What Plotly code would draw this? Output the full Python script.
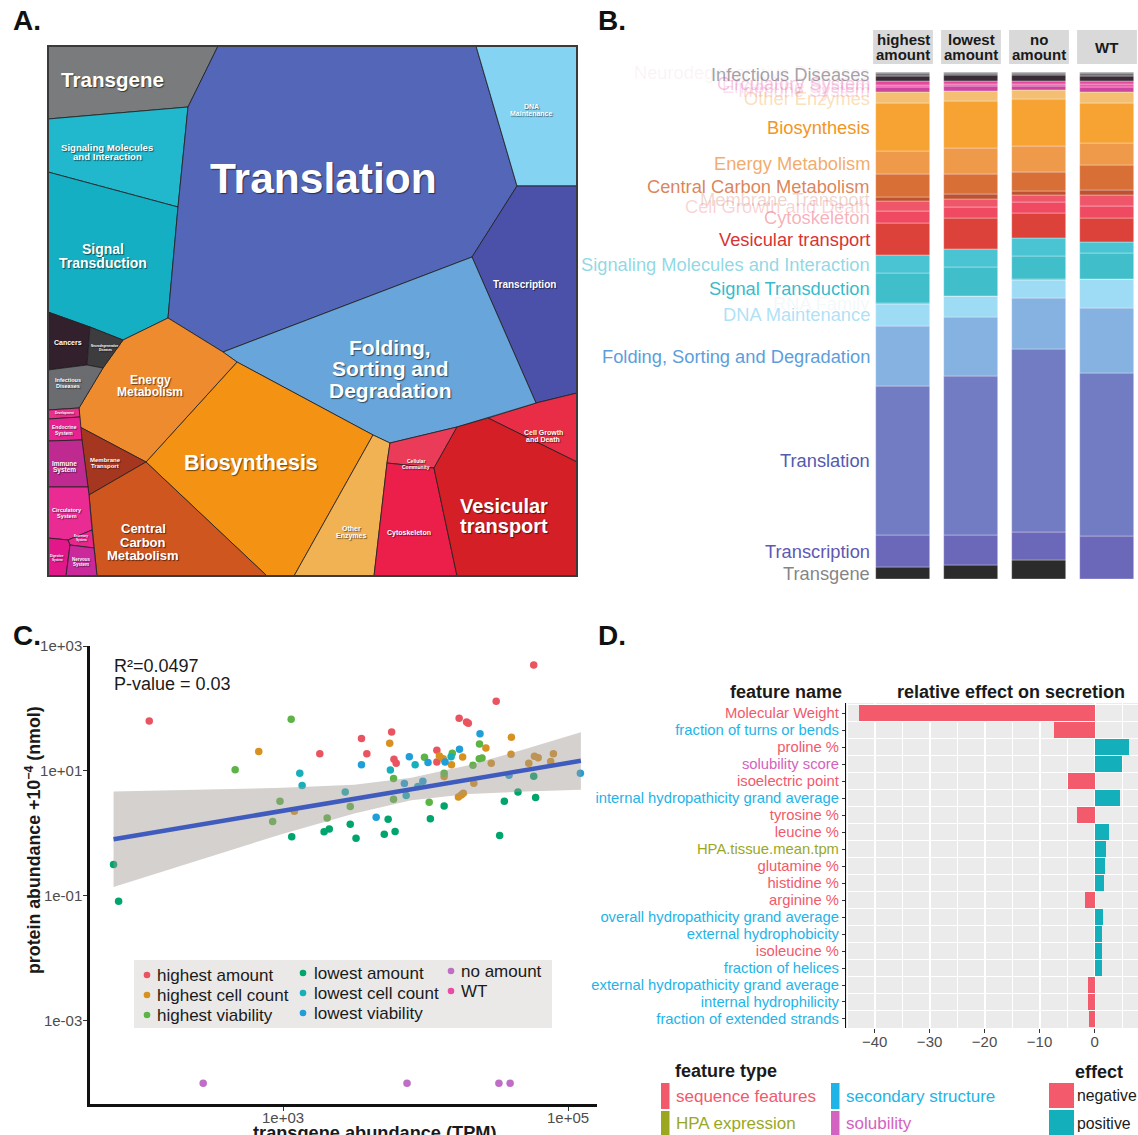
import plotly.graph_objects as go

W, H = 1138, 1135
FONT = "Liberation Sans, Arial, Helvetica, sans-serif"


def px(x):
    return x / W


def py(y):
    return 1 - y / H


# ---------------- A. pathway treemap: cell outlines (box units, y grows downward) ----------------
A_names = [
    "Transgene", "Signaling Molecules and Interaction", "Signal Transduction", "Translation",
    "DNA Maintenance", "Transcription", "Cell Growth and Death", "Folding, Sorting and Degradation",
    "Biosynthesis", "Other Enzymes", "Cellular Community", "Cytoskeleton", "Vesicular transport",
    "Energy Metabolism", "Membrane Transport", "Central Carbon Metabolism", "Cancers",
    "Neurodegenerative Diseases", "Infectious Diseases", "Development", "Endocrine System",
    "Immune System", "Circulatory System", "Excretory System", "Digestive System", "Nervous System",
]
A_cells = [
    [(0, 0), (170, 0), (140, 61), (0, 73)],
    [(0, 73), (140, 61), (130, 161), (0, 126)],
    [(0, 126), (130, 161), (120, 272), (75, 294), (42, 281), (0, 266)],
    [(170, 0), (428, 0), (469, 140), (424, 211), (175, 306), (120, 272), (130, 161), (140, 61)],
    [(428, 0), (529, 0), (529, 140), (469, 140)],
    [(469, 140), (529, 140), (529, 347), (488, 357), (424, 211)],
    [(488, 357), (529, 347), (529, 416), (440, 372)],
    [(175, 306), (424, 211), (488, 357), (440, 372), (409, 381), (342, 397), (325, 389), (189, 316)],
    [(189, 316), (325, 389), (246, 530), (219, 530), (98, 416)],
    [(325, 389), (342, 397), (339, 417), (326, 530), (246, 530)],
    [(342, 397), (409, 381), (386, 422), (339, 417)],
    [(339, 417), (386, 422), (409, 530), (326, 530)],
    [(386, 422), (409, 381), (440, 372), (529, 416), (529, 530), (409, 530)],
    [(75, 294), (120, 272), (175, 306), (189, 316), (98, 416), (32, 381), (31, 362), (55, 322)],
    [(32, 381), (98, 416), (41, 449)],
    [(98, 416), (219, 530), (49, 530), (41, 449)],
    [(0, 266), (42, 281), (39, 319), (0, 324)],
    [(42, 281), (75, 294), (55, 322), (39, 319)],
    [(0, 324), (39, 319), (55, 322), (31, 362), (0, 364)],
    [(0, 364), (31, 362), (32, 371), (0, 373)],
    [(0, 373), (32, 371), (34, 394), (0, 395)],
    [(0, 395), (34, 394), (40, 441), (0, 441)],
    [(0, 441), (40, 441), (41, 449), (44, 484), (20, 494), (0, 492)],
    [(20, 494), (44, 484), (46, 502), (22, 499)],
    [(0, 492), (20, 494), (22, 499), (18, 530), (0, 530)],
    [(22, 499), (46, 502), (49, 530), (18, 530)],
]
A_fill = [
    "#7A7B7D", "#21B7CC", "#15AFC3", "#5366B8", "#84D3F3", "#4B51A8", "#E92D47", "#67A5DA",
    "#F39213", "#F0B253", "#EA3C58", "#EC1F4B", "#D41F26", "#EE8B2E", "#A53620", "#D0561F",
    "#33202D", "#3D3C3F", "#6B6C6F", "#E8308A", "#E72391", "#BF2A90", "#E92B93", "#E8268C",
    "#E2188A", "#C9299B",
]
# label lines, anchor (box units), font size
A_labels = [
    (["Transgene"], 64, 34, 20.6),
    (["Signaling Molecules", "and Interaction"], 59, 106, 9.6),
    (["Signal", "Transduction"], 55, 210, 14),
    (["Translation"], 275, 133, 42.5),
    (["DNA", "Maintenance"], 483, 64, 7),
    (["Transcription"], 476, 239, 10),
    (["Folding,", "Sorting and", "Degradation"], 342, 323, 21),
    (["Energy", "Metabolism"], 102, 340, 12),
    (["Biosynthesis"], 203, 417, 21.5),
    (["Central", "Carbon", "Metabolism"], 95, 496, 13),
    (["Vesicular", "transport"], 456, 470, 20),
    (["Cell Growth", "and Death"], 495, 390, 7),
    (["Cellular", "Community"], 368, 418, 5),
    (["Cytoskeleton"], 361, 487, 7),
    (["Other", "Enzymes"], 303, 486, 7),
    (["Cancers"], 20, 297, 7),
    (["Neurodegenerative", "Diseases"], 57, 302, 3),
    (["Infectious", "Diseases"], 20, 337, 5.5),
    (["Membrane", "Transport"], 57, 417, 6),
    (["Development"], 16, 367, 3),
    (["Endocrine", "System"], 16, 384, 5),
    (["Immune", "System"], 16, 421, 6.5),
    (["Circulatory", "System"], 19, 467, 5.5),
    (["Nervous", "System"], 33, 516, 4.5),
    (["Digestive", "System"], 9, 512, 3),
    (["Excretory", "System"], 33, 492, 3),
]

# ---------------- B. pathway share (% of proteome) per strain group, bottom -> top ----------------
B_facets = ["highest amount", "lowest amount", "no amount", "WT"]
B_facet_titles = [["highest", "amount"], ["lowest", "amount"], ["no", "amount"], ["WT"]]
B_categories = [
    "Transgene", "Transcription", "Translation", "Folding, Sorting and Degradation",
    "DNA Maintenance", "RNA Family", "Signal Transduction", "Signaling Molecules and Interaction",
    "Vesicular transport", "Cytoskeleton", "Cell Growth and Death", "Membrane Transport",
    "Central Carbon Metabolism", "Energy Metabolism", "Biosynthesis", "Other Enzymes",
    "Immune System", "Endocrine System", "Circulatory System", "Cancers", "Infectious Diseases",
    "Neurodegenerative Diseases",
]
B_highest = [2.3, 6.4, 29.3, 12.0, 4.3, 0.1, 5.9, 3.6, 6.3, 2.3, 2.0, 0.8, 4.5, 4.6, 9.4, 2.2,
             1.0, 0.5, 0.7, 1.1, 0.6, 0.1]
B_lowest = [2.8, 5.9, 31.4, 11.5, 4.2, 0.1, 5.7, 3.4, 6.2, 2.2, 1.6, 0.9, 4.0, 5.1, 9.2, 2.0,
            1.0, 0.5, 0.6, 1.1, 0.5, 0.1]
B_none = [3.7, 5.6, 36.0, 10.1, 3.6, 0.1, 4.7, 3.4, 4.9, 2.2, 1.5, 0.7, 3.8, 5.1, 9.2, 1.8,
          0.9, 0.4, 0.6, 1.1, 0.5, 0.1]
B_wt = [0.0, 8.5, 32.1, 12.8, 5.7, 0.0, 5.2, 2.2, 4.7, 2.4, 2.2, 1.0, 4.9, 4.3, 7.8, 2.3,
        1.0, 0.5, 0.6, 1.1, 0.6, 0.1]
B_bar_colors = [
    "#2B2B2B", "#6B67B9", "#727CC3", "#86B2E2", "#9EDBF4", "#3CC0CC", "#40BFCB", "#4AC4D3",
    "#DC423A", "#EF4A62", "#F0566A", "#BE5230", "#D86F36", "#EF9A4A", "#F6A334", "#F4BF72",
    "#CC46A0", "#EE5AAA", "#E4479C", "#3A2C37", "#717174", "#8D8D90",
]
B_label_colors = [
    "rgba(110,110,110,0.85)", "rgba(96,88,178,1)", "rgba(83,90,176,1)", "rgba(92,158,220,1)",
    "rgba(120,205,240,0.6)", "rgba(160,200,215,0.15)", "rgba(40,183,200,0.95)",
    "rgba(70,190,210,0.6)", "rgba(216,52,52,1)", "rgba(238,80,100,0.45)",
    "rgba(238,100,110,0.28)", "rgba(190,90,70,0.25)", "rgba(214,110,60,0.85)",
    "rgba(240,150,70,0.8)", "rgba(242,150,30,1)", "rgba(245,185,100,0.45)",
    "rgba(225,80,165,0.2)", "rgba(235,90,170,0.2)", "rgba(225,70,155,0.3)", None,
    "rgba(100,100,105,0.6)", "rgba(225,150,190,0.12)",
]

# ---------------- C. transgene vs protein abundance per strain group ----------------
C_groups = ["highest amount", "highest cell count", "highest viability", "lowest amount",
            "lowest cell count", "lowest viability", "no amount", "WT"]
C_colors = ["#EA5360", "#D8901F", "#5BB443", "#00A56C", "#18AFBA", "#209ED9", "#BE6EC5", "#E94CA5"]
tpm_highest_amount = [115, 57400, 31300, 17200, 19400, 19950, 5780, 3550, 1810, 3870, 6000, 6220,
                      12000, 12000]
abund_highest_amount = [63, 497, 130, 69.7, 60.8, 58, 42.1, 32.9, 18.9, 18.9, 15.4, 13.3, 21.4, 13.9]
tpm_highest_cells = [675, 5600, 12500, 13300, 15200, 18200, 26500, 40000, 39800, 28900, 53000,
                     58100, 61700, 78900, 75500, 21800, 17000, 17800, 18400, 13500, 1200]
abund_highest_cells = [20.4, 27.7, 17.4, 15.7, 12.6, 16.7, 23.3, 34.6, 18.5, 13.3, 13.3, 17.2,
                       16.3, 18.9, 14.1, 6.35, 3.84, 4.13, 4.40, 8.11, 2.26]
tpm_highest_viab = [1140, 461, 9820, 15400, 23900, 23800, 24900, 21500, 13500, 5960, 5960, 2960,
                    10600, 951, 845, 2040]
abund_highest_viab = [67.1, 10.4, 16.6, 19.2, 27.0, 15.7, 16.1, 12.3, 9.18, 7.53, 3.52, 2.69,
                      3.16, 3.27, 1.55, 1.77]
tpm_lowest_amount = [64.6, 70.1, 1150, 1940, 2110, 2960, 3250, 5130, 6110, 5460, 10800, 13500,
                     33100, 35700, 44500, 59200, 57400]
abund_lowest_amount = [0.317, 0.0822, 0.879, 1.06, 1.17, 1.40, 0.838, 0.970, 1.07, 1.69, 1.71,
                       2.75, 0.923, 3.27, 4.61, 3.74, 8.22]
tpm_lowest_cells = [1310, 1360, 2730, 7310, 5660, 8450, 15100, 8830]
abund_lowest_cells = [9.18, 5.82, 4.61, 4.03, 10.3, 12.5, 16.9, 5.61]
tpm_lowest_viab = [3550, 7690, 10400, 13700, 17300, 24100, 7100, 9570, 4500, 38500, 122000]
abund_lowest_viab = [12.6, 16.9, 13.6, 13.9, 22.2, 39.5, 6.27, 6.84, 1.82, 8.53, 9.18]
tpm_no_amount = [275, 7410, 32700, 39200]
abund_no_amount = [1e-4, 1e-4, 1e-4, 1e-4]
tpm_wt = []
abund_wt = []
C_tpm = [tpm_highest_amount, tpm_highest_cells, tpm_highest_viab, tpm_lowest_amount,
         tpm_lowest_cells, tpm_lowest_viab, tpm_no_amount, tpm_wt]
C_abund = [abund_highest_amount, abund_highest_cells, abund_highest_viab, abund_lowest_amount,
           abund_lowest_cells, abund_lowest_viab, abund_no_amount, abund_wt]
# linear fit in log-log space with its 95% confidence band
fit_tpm = [64.6, 316, 1000, 3160, 7940, 19950, 50100, 123000]
fit_mid = [0.807, 1.48, 2.30, 3.57, 5.08, 7.21, 10.3, 14.5]
fit_hi = [4.68, 5.01, 5.37, 6.03, 7.76, 12.3, 22.4, 41.7]
fit_lo = [0.138, 0.437, 0.989, 2.09, 3.39, 4.27, 4.68, 5.01]
r_squared = "0.0497"
p_value = "0.03"

# ---------------- D. feature effects on secretion ----------------
D_features = [
    "Molecular Weight", "fraction of turns or bends", "proline %", "solubility score",
    "isoelectric point", "internal hydropathicity grand average", "tyrosine %", "leucine %",
    "HPA.tissue.mean.tpm", "glutamine %", "histidine %", "arginine %",
    "overall hydropathicity grand average", "external hydrophobicity", "isoleucine %",
    "fraction of helices", "external hydropathicity grand average", "internal hydrophilicity",
    "fraction of extended strands",
]
D_effect = [-42.9, -7.3, 6.2, 4.9, -4.9, 4.6, -3.2, 2.6, 2.0, 1.9, 1.7, -1.8, 1.5, 1.4, 1.4,
            1.3, -1.2, -1.2, -1.0]
D_type = ["sequence features", "secondary structure", "sequence features", "solubility",
          "sequence features", "secondary structure", "sequence features", "sequence features",
          "HPA expression", "sequence features", "sequence features", "sequence features",
          "secondary structure", "secondary structure", "sequence features", "secondary structure",
          "secondary structure", "secondary structure", "secondary structure"]
D_type_colors = {"sequence features": "#F2596B", "HPA expression": "#9AA71F",
                 "secondary structure": "#1EB4E8", "solubility": "#D462C0"}
D_effect_colors = {"negative": "#F35B6C", "positive": "#13AFBA"}

fig = go.Figure()
annotations = []
shapes = []


def note(text, x, y, size, color="#1A1A1A", xanchor="left", xref="paper", yref="paper",
         bold=False, **extra):
    font = dict(family=FONT, size=size, color=color)
    if bold:
        font["weight"] = 700
    font.update(extra.pop("fontextra", {}))
    d = dict(x=x, y=y, xref=xref, yref=yref, text=text, showarrow=False, xanchor=xanchor,
             yanchor="middle", font=font, borderpad=0, borderwidth=0)
    d.update(extra)
    annotations.append(d)


# ===== Panel A =====
for name, poly, col in zip(A_names, A_cells, A_fill):
    xs = [p[0] for p in poly] + [poly[0][0]]
    ys = [p[1] for p in poly] + [poly[0][1]]
    fig.add_trace(go.Scatter(x=xs, y=ys, mode="lines", fill="toself", fillcolor=col,
                             line=dict(color="#1E1E1E", width=0.8), name=name,
                             hoverinfo="name", showlegend=False, xaxis="x", yaxis="y"))
for lines, lx, ly, size in A_labels:
    n = len(lines)
    for i, line in enumerate(lines):
        yy = ly + (i - (n - 1) / 2) * size * 1.04
        note(line, lx, yy, size, color="white", xanchor="center", xref="x", yref="y",
             bold=True, fontextra=dict(shadow="1px 1px 1px rgba(0,0,0,0.55)"))
shapes.append(dict(type="rect", xref="paper", yref="paper", x0=px(48), x1=px(577),
                   y0=py(576), y1=py(46), line=dict(color="#3A3A3A", width=2)))

# ===== Panel B =====
B_values = [B_highest, B_lowest, B_none, B_wt]
B_shares = []
for vals in B_values:
    tot = sum(vals)
    B_shares.append([v / tot * 100 for v in vals])
for ci, cat in enumerate(B_categories):
    fig.add_trace(go.Bar(
        x=B_facets, y=[B_shares[f][ci] for f in range(4)], name=cat, width=0.8,
        marker=dict(color=B_bar_colors[ci], line=dict(color="rgba(255,255,255,0.55)", width=0.6)),
        showlegend=False, xaxis="x2", yaxis="y2"))
cum = 0.0
for ci, cat in enumerate(B_categories):
    share = B_shares[0][ci]
    center = cum + share / 2
    cum += share
    if B_label_colors[ci] is None:
        continue
    note(cat, px(870), center, 18.3, color=B_label_colors[ci], xanchor="right", yref="y2")
for i, title in enumerate(B_facet_titles):
    shapes.append(dict(type="rect", xref="x2", yref="paper", x0=i - 0.44, x1=i + 0.44,
                       y0=py(64), y1=py(30), fillcolor="#D9D9D9", line=dict(width=0)))
    n = len(title)
    for k, line in enumerate(title):
        note(line, i, py(47 + (k - (n - 1) / 2) * 15), 15, xanchor="center", xref="x2",
             bold=True)

# ===== Panel C =====
for grp, col, xs, ys in zip(C_groups, C_colors, C_tpm, C_abund):
    fig.add_trace(go.Scatter(x=xs, y=ys, mode="markers", name=grp,
                             marker=dict(color=col, size=7.5, line=dict(width=0)),
                             showlegend=False, xaxis="x3", yaxis="y3"))
fig.add_trace(go.Scatter(x=fit_tpm + fit_tpm[::-1], y=fit_hi + fit_lo[::-1], mode="lines",
                         fill="toself", fillcolor="rgba(160,152,146,0.45)",
                         line=dict(width=0), showlegend=False, hoverinfo="skip",
                         xaxis="x3", yaxis="y3"))
fig.add_trace(go.Scatter(x=fit_tpm, y=fit_mid, mode="lines",
                         line=dict(color="#3F5BBE", width=4.5), showlegend=False,
                         xaxis="x3", yaxis="y3"))
note("R²=" + r_squared, px(114), py(666), 18)
note("P-value = " + p_value, px(114), py(684), 18)
note("protein abundance +10<sup>−4</sup> (nmol)", px(33), py(840), 17.8, xanchor="center",
     bold=True, textangle=-90)
note("transgene abundance (TPM)", px(375), py(1133), 18.2, xanchor="center", bold=True)
# legend box for panel C
shapes.append(dict(type="rect", xref="paper", yref="paper", x0=px(134), x1=px(552),
                   y0=py(1028), y1=py(960), fillcolor="#EAE9E7", line=dict(width=0)))
leg_cols = [(147, 157), (147, 157), (147, 157), (303, 314), (303, 314), (303, 314),
            (451, 461), (451, 461)]
leg_rows = [975, 995, 1015, 973, 993, 1013, 971, 991]
for grp, col, (dx, tx), ry in zip(C_groups, C_colors, leg_cols, leg_rows):
    shapes.append(dict(type="circle", xref="paper", yref="paper",
                       x0=px(dx - 3.3), x1=px(dx + 3.3), y0=py(ry + 3.3), y1=py(ry - 3.3),
                       fillcolor=col, line=dict(width=0)))
    note(grp, px(tx), py(ry), 17)

# ===== Panel D =====
D_pos = list(range(len(D_features)))
D_bar_colors = [D_effect_colors["negative"] if v < 0 else D_effect_colors["positive"]
                for v in D_effect]
fig.add_trace(go.Bar(x=D_effect, y=D_pos, orientation="h", width=0.96,
                     marker=dict(color=D_bar_colors, line=dict(width=0)),
                     showlegend=False, xaxis="x4", yaxis="y4",
                     hovertext=D_features))
shapes.append(dict(type="rect", xref="x4 domain", yref="y4 domain", x0=0, x1=1, y0=0, y1=1,
                   fillcolor="#EBEBEB", line=dict(width=0), layer="below"))
D_ticktext = ["<span style='color:%s'>%s</span>" % (D_type_colors[t], f)
              for f, t in zip(D_features, D_type)]
note("feature name", px(842), py(692), 18, xanchor="right", bold=True)
note("relative effect on secretion", px(897), py(692), 18, bold=True)
# feature-type key
note("feature type", px(675), py(1071), 18, bold=True)
type_keys = [("sequence features", 661, 1083, 1109), ("HPA expression", 661, 1111, 1136),
             ("secondary structure", 831, 1083, 1109), ("solubility", 831, 1111, 1136)]
for label, kx, ky0, ky1 in type_keys:
    shapes.append(dict(type="rect", xref="paper", yref="paper", x0=px(kx), x1=px(kx + 8.5),
                       y0=py(ky1), y1=py(ky0), fillcolor=D_type_colors[label], line=dict(width=0)))
    note(label, px(kx + 15), py((ky0 + ky1) / 2), 17, color=D_type_colors[label])
note("effect", px(1075), py(1072), 18, bold=True)
effect_keys = [("negative", 1083, 1108), ("positive", 1110, 1136)]
for label, ky0, ky1 in effect_keys:
    shapes.append(dict(type="rect", xref="paper", yref="paper", x0=px(1049), x1=px(1074),
                       y0=py(ky1), y1=py(ky0), fillcolor=D_effect_colors[label],
                       line=dict(width=0)))
    note(label, px(1077), py((ky0 + ky1) / 2), 15.8)

# panel letters
for letter, lx, ly in [("A.", 13, 20), ("B.", 598, 20), ("C.", 13, 635), ("D.", 598, 635)]:
    note(letter, px(lx), py(ly), 28, color="#111111", bold=True)

tick_font = dict(family=FONT, size=15, color="#4D4D4D")
fig.update_layout(
    width=W, height=H, margin=dict(l=0, r=0, t=0, b=0, autoexpand=False),
    paper_bgcolor="white", plot_bgcolor="rgba(0,0,0,0)",
    barmode="relative", bargap=0, font=dict(family=FONT),
    xaxis=dict(domain=[px(48), px(577)], range=[0, 529], visible=False, fixedrange=True,
               anchor="y", automargin=False),
    yaxis=dict(domain=[py(576), py(46)], range=[530, 0], visible=False, fixedrange=True,
               anchor="x", automargin=False),
    xaxis2=dict(domain=[px(869), 1.0], range=[-0.5, 3.456], type="category", visible=False,
                anchor="y2", automargin=False),
    yaxis2=dict(domain=[py(579.3), py(72.3)], range=[0, 100], visible=False,
                anchor="x2", automargin=False),
    xaxis3=dict(domain=[px(90), px(597)], type="log", range=[1.645, 5.203], anchor="y3",
                automargin=False, ticklabelstandoff=-6,
                tickvals=[1e3, 1e5], ticktext=["1e+03", "1e+05"], showgrid=False,
                zeroline=False, showline=True, linecolor="#111111", linewidth=2.5,
                ticks="outside", ticklen=4, tickwidth=1.3, tickcolor="#333333",
                tickfont=tick_font),
    yaxis3=dict(domain=[py(1104), py(646)], type="log", range=[-4.333, 3.0], anchor="x3",
                automargin=False, ticklabelstandoff=-2,
                tickvals=[1e-3, 1e-1, 1e1, 1e3], ticktext=["1e-03", "1e-01", "1e+01", "1e+03"],
                showgrid=False, zeroline=False, showline=True, linecolor="#111111",
                linewidth=2.5, ticks="outside", ticklen=4, tickwidth=1.3, tickcolor="#333333",
                tickfont=tick_font),
    xaxis4=dict(domain=[px(846), 1.0], range=[-45.2, 7.9], tick0=0, dtick=10, anchor="y4",
                automargin=False, ticklabelstandoff=-4,
                showgrid=True, gridcolor="white", gridwidth=1.6, zeroline=False,
                showline=False, ticks="outside", ticklen=4, tickwidth=1.2, tickcolor="#333333",
                tickfont=tick_font,
                minor=dict(tick0=0, dtick=5, showgrid=True, gridcolor="white", gridwidth=0.8,
                           ticks="")),
    yaxis4=dict(domain=[py(1028), py(703)], range=[18.53, -0.59], tickmode="array",
                anchor="x4", automargin=False,
                tickvals=D_pos, ticktext=D_ticktext, showgrid=False, zeroline=False,
                showline=True, linecolor="#111111", linewidth=1.2, ticks="outside", ticklen=3,
                tickwidth=1.2, tickcolor="#333333",
                tickfont=dict(family=FONT, size=14.8),
                minor=dict(tickmode="linear", tick0=0.5, dtick=1, showgrid=True,
                           gridcolor="white", gridwidth=1.2, ticks="")),
    annotations=annotations,
    shapes=shapes,
)

fig.write_html("out.html")
